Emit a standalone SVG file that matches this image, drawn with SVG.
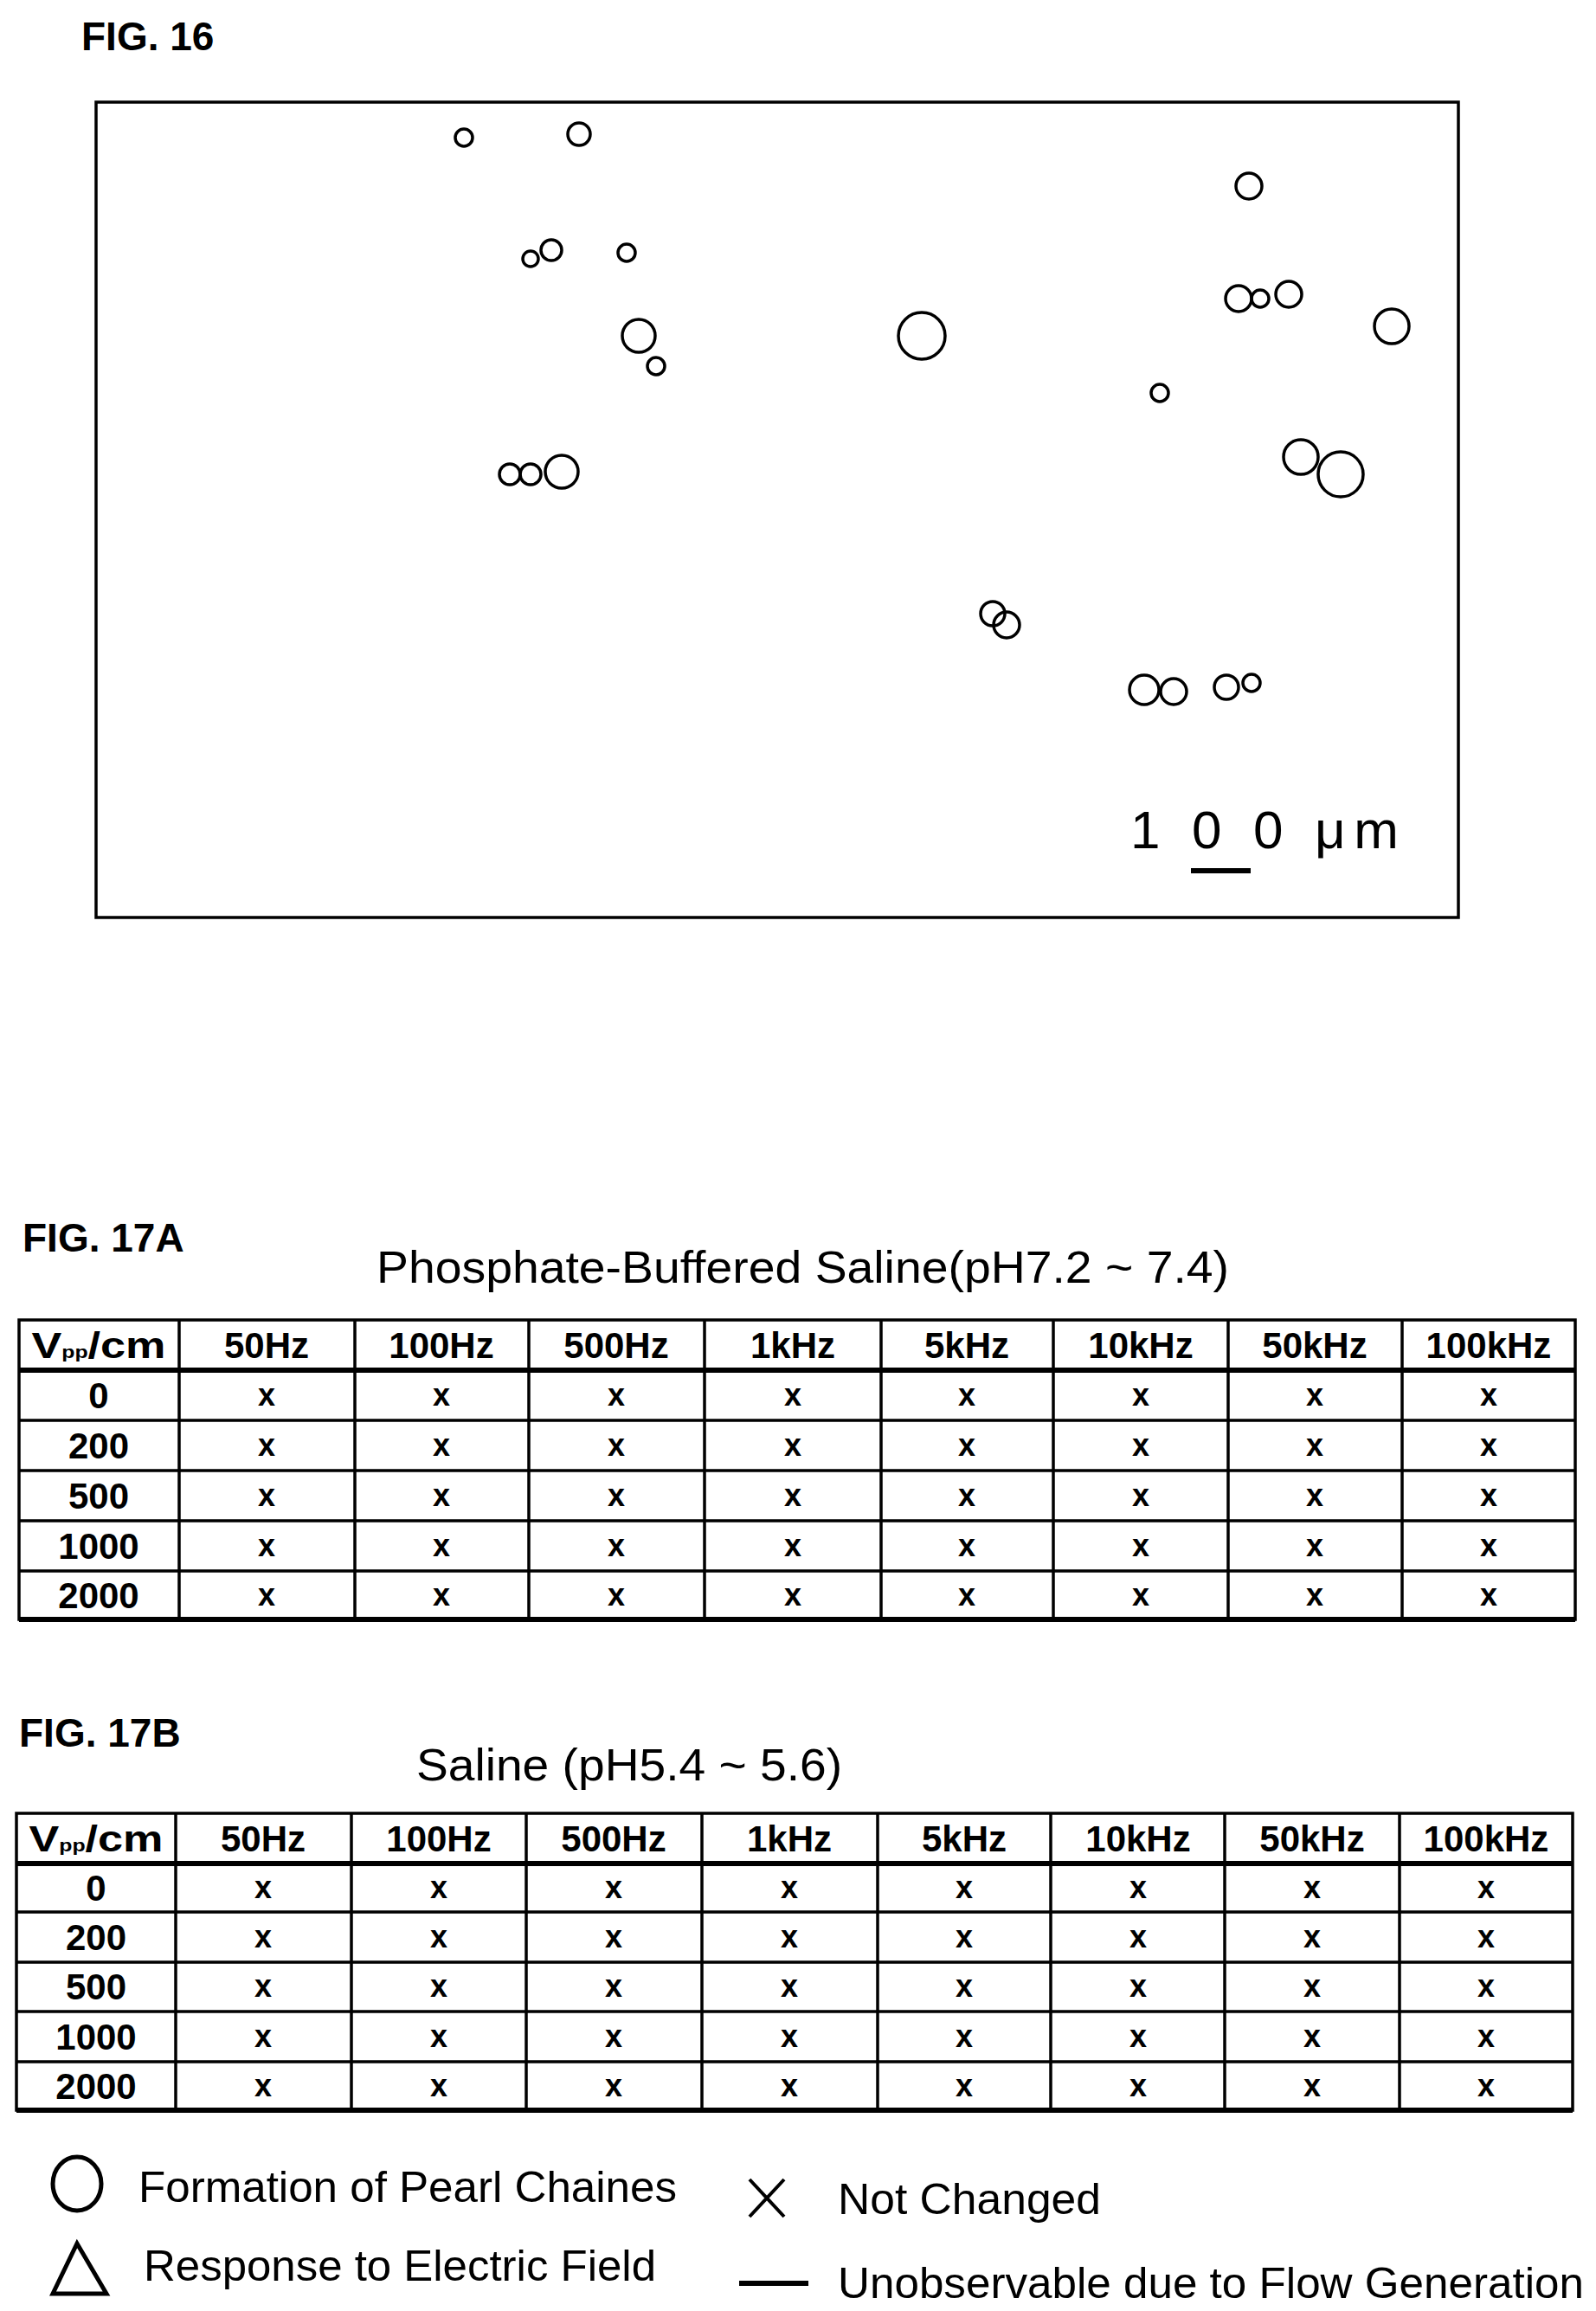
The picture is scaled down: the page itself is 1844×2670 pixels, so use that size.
<svg xmlns="http://www.w3.org/2000/svg" width="1844" height="2670" viewBox="0 0 1844 2670">
<style>
.fig{font-family:"Liberation Sans",Arial,sans-serif;font-weight:bold;font-size:46px}
.ttl{font-family:"Liberation Sans",Arial,sans-serif;font-size:52px}
.c{fill:none;stroke:#000;stroke-width:3.5}
.g{stroke:#000;stroke-width:3.5;fill:none}
.gt{stroke:#000;stroke-width:6;fill:none}
.h{font-family:"Liberation Sans",Arial,sans-serif;font-weight:bold;font-size:42px;text-anchor:middle}
.x{font-family:"Liberation Sans",Arial,sans-serif;font-weight:bold;font-size:36px;text-anchor:middle}
.lg{font-family:"Liberation Sans",Arial,sans-serif;font-size:50px}
</style>
<rect width="1844" height="2670" fill="#fff"/>
<g id="fig16">
<text class="fig" x="94" y="58">FIG. 16</text>
<rect x="111" y="118" width="1574" height="942" fill="none" stroke="#000" stroke-width="3.5"/>
<circle class="c" cx="536" cy="159" r="10"/><circle class="c" cx="669" cy="155" r="13"/>
<circle class="c" cx="613" cy="299" r="9"/><circle class="c" cx="637" cy="289" r="12"/>
<circle class="c" cx="724" cy="292" r="10"/><circle class="c" cx="738" cy="388" r="19"/>
<circle class="c" cx="758" cy="423" r="10"/><circle class="c" cx="1065" cy="388" r="27"/>
<circle class="c" cx="589" cy="548" r="12"/><circle class="c" cx="613" cy="548" r="12"/>
<circle class="c" cx="649" cy="545" r="19"/><circle class="c" cx="1443" cy="215" r="15"/>
<circle class="c" cx="1431" cy="345" r="15"/><circle class="c" cx="1456" cy="345" r="10"/>
<circle class="c" cx="1489" cy="340" r="15"/><circle class="c" cx="1608" cy="377" r="20"/>
<circle class="c" cx="1340" cy="454" r="10"/><circle class="c" cx="1503" cy="528" r="20"/>
<circle class="c" cx="1549" cy="548" r="26"/><circle class="c" cx="1147" cy="709" r="14"/>
<circle class="c" cx="1163" cy="722" r="15"/><circle class="c" cx="1322" cy="797" r="17"/>
<circle class="c" cx="1356" cy="799" r="15"/><circle class="c" cx="1417" cy="794" r="14"/>
<circle class="c" cx="1446" cy="789" r="10"/>
<text x="1306" y="980" font-family="Liberation Sans,Arial,sans-serif" font-size="62" textLength="310" lengthAdjust="spacing">1 0 0 μm</text>
<rect x="1376" y="1003" width="69" height="6" fill="#000"/>
</g>
<g id="fig17a">
<text class="fig" x="26" y="1446">FIG. 17A</text>
<text class="ttl" x="435" y="1482" textLength="985" lengthAdjust="spacingAndGlyphs">Phosphate-Buffered Saline(pH7.2 ~ 7.4)</text>
<rect class="g" x="22" y="1525" width="1798" height="346"/>
<path class="g" d="M207 1525V1871M410 1525V1871M611 1525V1871M814 1525V1871M1018 1525V1871M1217 1525V1871M1419 1525V1871M1620 1525V1871M22 1641H1820M22 1699H1820M22 1757H1820M22 1815H1820"/>
<path class="gt" d="M22 1583H1820M22 1871H1820"/>
<g class="h">
<text x="114" y="1569" textLength="155" lengthAdjust="spacingAndGlyphs">V<tspan font-size="20">pp</tspan>/cm</text>
<text x="308" y="1569">50Hz</text><text x="510" y="1569">100Hz</text><text x="712" y="1569">500Hz</text><text x="916" y="1569">1kHz</text><text x="1117" y="1569">5kHz</text><text x="1318" y="1569">10kHz</text><text x="1519" y="1569">50kHz</text><text x="1720" y="1569">100kHz</text>
<text x="114" y="1627">0</text><text x="114" y="1685">200</text><text x="114" y="1743">500</text><text x="114" y="1801">1000</text><text x="114" y="1858">2000</text>
</g>
<g class="x">
<text x="308" y="1624">x</text><text x="510" y="1624">x</text><text x="712" y="1624">x</text><text x="916" y="1624">x</text><text x="1117" y="1624">x</text><text x="1318" y="1624">x</text><text x="1519" y="1624">x</text><text x="1720" y="1624">x</text>
<text x="308" y="1682">x</text><text x="510" y="1682">x</text><text x="712" y="1682">x</text><text x="916" y="1682">x</text><text x="1117" y="1682">x</text><text x="1318" y="1682">x</text><text x="1519" y="1682">x</text><text x="1720" y="1682">x</text>
<text x="308" y="1740">x</text><text x="510" y="1740">x</text><text x="712" y="1740">x</text><text x="916" y="1740">x</text><text x="1117" y="1740">x</text><text x="1318" y="1740">x</text><text x="1519" y="1740">x</text><text x="1720" y="1740">x</text>
<text x="308" y="1798">x</text><text x="510" y="1798">x</text><text x="712" y="1798">x</text><text x="916" y="1798">x</text><text x="1117" y="1798">x</text><text x="1318" y="1798">x</text><text x="1519" y="1798">x</text><text x="1720" y="1798">x</text>
<text x="308" y="1855">x</text><text x="510" y="1855">x</text><text x="712" y="1855">x</text><text x="916" y="1855">x</text><text x="1117" y="1855">x</text><text x="1318" y="1855">x</text><text x="1519" y="1855">x</text><text x="1720" y="1855">x</text>
</g>
</g>
<g id="fig17b">
<text class="fig" x="22" y="2018">FIG. 17B</text>
<text class="ttl" x="481" y="2057" textLength="492" lengthAdjust="spacingAndGlyphs">Saline (pH5.4 ~ 5.6)</text>
<rect class="g" x="19" y="2095" width="1798" height="343"/>
<path class="g" d="M203 2095V2438M406 2095V2438M608 2095V2438M811 2095V2438M1014 2095V2438M1214 2095V2438M1415 2095V2438M1617 2095V2438M19 2209H1817M19 2267H1817M19 2324H1817M19 2382H1817"/>
<path class="gt" d="M19 2153H1817M19 2438H1817"/>
<g class="h">
<text x="111" y="2139" textLength="155" lengthAdjust="spacingAndGlyphs">V<tspan font-size="20">pp</tspan>/cm</text>
<text x="304" y="2139">50Hz</text><text x="507" y="2139">100Hz</text><text x="709" y="2139">500Hz</text><text x="912" y="2139">1kHz</text><text x="1114" y="2139">5kHz</text><text x="1315" y="2139">10kHz</text><text x="1516" y="2139">50kHz</text><text x="1717" y="2139">100kHz</text>
<text x="111" y="2196">0</text><text x="111" y="2253">200</text><text x="111" y="2310">500</text><text x="111" y="2368">1000</text><text x="111" y="2425">2000</text>
</g>
<g class="x">
<text x="304" y="2193">x</text><text x="507" y="2193">x</text><text x="709" y="2193">x</text><text x="912" y="2193">x</text><text x="1114" y="2193">x</text><text x="1315" y="2193">x</text><text x="1516" y="2193">x</text><text x="1717" y="2193">x</text>
<text x="304" y="2250">x</text><text x="507" y="2250">x</text><text x="709" y="2250">x</text><text x="912" y="2250">x</text><text x="1114" y="2250">x</text><text x="1315" y="2250">x</text><text x="1516" y="2250">x</text><text x="1717" y="2250">x</text>
<text x="304" y="2307">x</text><text x="507" y="2307">x</text><text x="709" y="2307">x</text><text x="912" y="2307">x</text><text x="1114" y="2307">x</text><text x="1315" y="2307">x</text><text x="1516" y="2307">x</text><text x="1717" y="2307">x</text>
<text x="304" y="2365">x</text><text x="507" y="2365">x</text><text x="709" y="2365">x</text><text x="912" y="2365">x</text><text x="1114" y="2365">x</text><text x="1315" y="2365">x</text><text x="1516" y="2365">x</text><text x="1717" y="2365">x</text>
<text x="304" y="2422">x</text><text x="507" y="2422">x</text><text x="709" y="2422">x</text><text x="912" y="2422">x</text><text x="1114" y="2422">x</text><text x="1315" y="2422">x</text><text x="1516" y="2422">x</text><text x="1717" y="2422">x</text>
</g>
</g>
<g id="legend">
<ellipse cx="89" cy="2523" rx="28" ry="31" fill="none" stroke="#000" stroke-width="5"/>
<text class="lg" x="160" y="2544" textLength="622" lengthAdjust="spacingAndGlyphs">Formation of Pearl Chaines</text>
<polygon points="61,2650 89,2592 123,2650" fill="none" stroke="#000" stroke-width="5"/>
<text class="lg" x="166" y="2635" textLength="592" lengthAdjust="spacingAndGlyphs">Response to Electric Field</text>
<path d="M866 2518L906 2561M906 2518L866 2561" stroke="#000" stroke-width="4"/>
<text class="lg" x="968" y="2558" textLength="304" lengthAdjust="spacingAndGlyphs">Not Changed</text>
<rect x="854" y="2635" width="80" height="6" fill="#000"/>
<text class="lg" x="968" y="2655" textLength="862" lengthAdjust="spacingAndGlyphs">Unobservable due to Flow Generation</text>
</g>
</svg>
